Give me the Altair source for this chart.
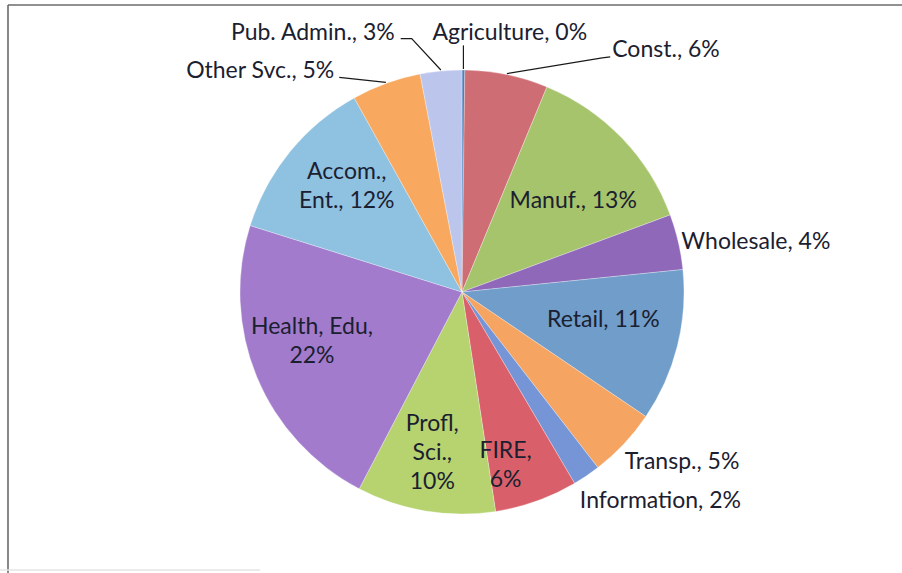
import math
import altair as alt
import pandas as pd

# Share of employment by sector, clockwise from 12 o'clock
sectors = ["Agriculture", "Const.", "Manuf.", "Wholesale", "Retail", "Transp.",
           "Information", "FIRE", "Profl, Sci.", "Health, Edu", "Accom., Ent.",
           "Other Svc.", "Pub. Admin."]
shares = [0.2, 6, 13, 4, 11, 5, 2, 6, 10, 22, 12, 5, 3]

# Label text as shown on the chart (line breaks inside the wedge labels)
label_names = ["Agriculture", "Const.", "Manuf.", "Wholesale", "Retail", "Transp.",
               "Information", "FIRE,\n", "Profl,\nSci.,\n", "Health, Edu,\n",
               "Accom.,\nEnt.", "Other Svc.", "Pub. Admin."]

colors = ["#4a7fc0", "#cf6d74", "#a6c46b", "#8f68b9", "#709dc9", "#f5a462",
          "#7595d6", "#d9606a", "#b6d36f", "#a27bcc", "#8fc1e1", "#f8a95f",
          "#bcc6ec"]

# Pie geometry (pixels)
CX, CY, R = 462, 292, 222
W, H = 902, 573
FONT_SIZE, LINE_H = 23, 29

# Label placement: radius from centre, angle nudge from slice middle, alignment
lab_r = [263, 285, 144, 225, 144, 235, 240, 179, 164, 158, 156, 255, 268]
lab_nudge = [10.1, 20.2, 4.5, 0.2, -3.0, 3.0, 4.7, 5.5, 1.0, 4.2, 3.2, -10.1, -9.1]
lab_align = ["center", "left", "center", "left", "center", "left", "left",
             "center", "center", "center", "center", "right", "right"]

total = sum(shares)
rows = []
cum = 0.0
for i, (s, v) in enumerate(zip(sectors, shares)):
    mid = (cum + v / 2) / total * 360.0
    cum += v
    ang = math.radians(mid + lab_nudge[i])
    name = label_names[i]
    sep = "" if name.endswith("\n") else ", "
    label = f"{name}{sep}{round(v)}%"
    n_lines = label.count("\n") + 1
    rows.append(dict(
        idx=i, sector=s, share=v, mid=mid,
        label=label,
        lx=CX + lab_r[i] * math.sin(ang),
        # centre the whole block of lines on the anchor point
        ly=CY - lab_r[i] * math.cos(ang) - (n_lines - 1) * LINE_H / 2,
        ay=CY - lab_r[i] * math.cos(ang),
        align=lab_align[i],
    ))
df = pd.DataFrame(rows)


def edge(i, r=R + 1):
    a = math.radians(df.loc[i, "mid"])
    return CX + r * math.sin(a), CY - r * math.cos(a)


def anchor(i):
    return df.loc[i, "lx"], df.loc[i, "ay"]


# Leader lines from the rim of small slices out to their labels
leaders = []
def add_leader(i, pts):
    for k, (x, y) in enumerate(pts):
        leaders.append(dict(lid=i, k=k, x=x, y=y))

ex, ey = edge(0)
ax, ay = anchor(0)
add_leader(0, [(ex, ey), (ex, ay + 12)])
ax, ay = anchor(1)
add_leader(1, [edge(1), (ax - 10, ay + 8), (ax - 2, ay + 7)])
ax, ay = anchor(12)
add_leader(12, [edge(12), (ax + 17, ay + 6), (ax + 6, ay + 6)])
ax, ay = anchor(11)
add_leader(11, [edge(11), (ax + 5, ay + 6)])
lead_df = pd.DataFrame(leaders)

pie = alt.Chart(df).mark_arc(radius=R, stroke="#ffffff", strokeWidth=0.3).encode(
    theta=alt.Theta("share:Q", stack=True),
    order=alt.Order("idx:Q"),
    color=alt.Color("sector:N", scale=alt.Scale(domain=sectors, range=colors), legend=None),
    x=alt.value(CX),
    y=alt.value(CY),
)

lines = alt.Chart(lead_df).mark_line(color="#1a1a1a", strokeWidth=1.2).encode(
    x=alt.X("x:Q", scale=None),
    y=alt.Y("y:Q", scale=None),
    detail="lid:N",
    order="k:Q",
)

text_layers = []
for al in ["left", "center", "right"]:
    text_layers.append(
        alt.Chart(df).transform_filter(alt.datum.align == al).mark_text(
            align=al, baseline="middle", font="Lato", fontSize=FONT_SIZE,
            color="#1b2030", lineBreak="\n", lineHeight=LINE_H,
        ).encode(
            x=alt.X("lx:Q", scale=None),
            y=alt.Y("ly:Q", scale=None),
            text="label:N",
        )
    )

# Chart frame: top and left edges, faint bottom edge
frame_df = pd.DataFrame([
    dict(x=8, y=5, x2=W + 5, y2=5, c="#6b6b6b"),
    dict(x=8, y=5, x2=8, y2=H + 5, c="#6b6b6b"),
    dict(x=0, y=570, x2=260, y2=570, c="#e4e4e4"),
])
frame = alt.Chart(frame_df).mark_rule(strokeWidth=1.6).encode(
    x=alt.X("x:Q", scale=None), y=alt.Y("y:Q", scale=None),
    x2="x2:Q", y2="y2:Q",
    color=alt.Color("c:N", scale=None),
)

chart = alt.layer(frame, pie, lines, *text_layers).properties(
    width=W, height=H,
    autosize=alt.AutoSizeParams(type="none"),
    padding=0,
    background="white",
).configure_view(stroke=None)

chart.save("out.html", embed_options={"renderer": "svg", "actions": False})
